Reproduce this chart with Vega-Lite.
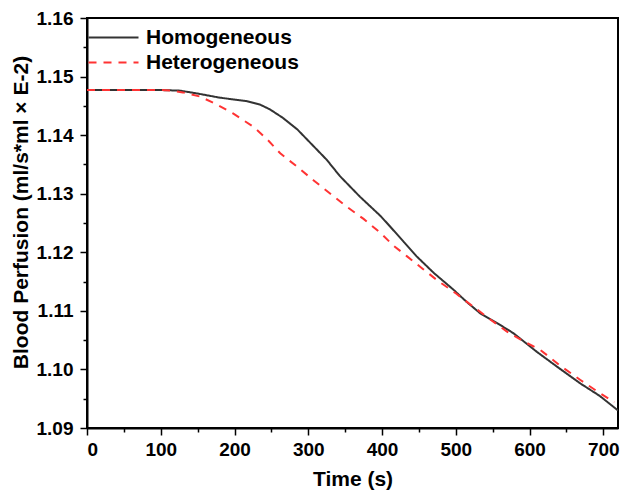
{
  "$schema": "https://vega.github.io/schema/vega-lite/v6.json",
  "width": 531,
  "height": 410,
  "autosize": {"type": "none"},
  "padding": {"left": 87, "top": 18, "right": 4, "bottom": 64},
  "background": "white",
  "config": {
    "view": {"stroke": "black", "strokeWidth": 2},
    "font": "Liberation Sans",
    "axis": {
      "grid": false,
      "domainColor": "black",
      "domainWidth": 2,
      "tickColor": "black",
      "tickWidth": 1.5,
      "labelFont": "Liberation Sans",
      "labelFontWeight": "bold",
      "labelFontSize": 19,
      "labelColor": "black",
      "titleFont": "Liberation Sans",
      "titleFontWeight": "bold",
      "titleFontSize": 21,
      "titleColor": "black"
    }
  },
  "datasets": {
    "curves": [
      {"t": 0, "v": 1.1477, "s": "Homogeneous"},
      {"t": 100, "v": 1.1477, "s": "Homogeneous"},
      {"t": 126, "v": 1.1476, "s": "Homogeneous"},
      {"t": 150, "v": 1.1471, "s": "Homogeneous"},
      {"t": 180, "v": 1.1464, "s": "Homogeneous"},
      {"t": 217, "v": 1.1458, "s": "Homogeneous"},
      {"t": 235, "v": 1.1452, "s": "Homogeneous"},
      {"t": 248, "v": 1.1444, "s": "Homogeneous"},
      {"t": 265, "v": 1.143, "s": "Homogeneous"},
      {"t": 285, "v": 1.141, "s": "Homogeneous"},
      {"t": 305, "v": 1.1384, "s": "Homogeneous"},
      {"t": 325, "v": 1.1358, "s": "Homogeneous"},
      {"t": 343, "v": 1.133, "s": "Homogeneous"},
      {"t": 370, "v": 1.1295, "s": "Homogeneous"},
      {"t": 398, "v": 1.1262, "s": "Homogeneous"},
      {"t": 411, "v": 1.1244, "s": "Homogeneous"},
      {"t": 430, "v": 1.1217, "s": "Homogeneous"},
      {"t": 447, "v": 1.1193, "s": "Homogeneous"},
      {"t": 470, "v": 1.1165, "s": "Homogeneous"},
      {"t": 497, "v": 1.1136, "s": "Homogeneous"},
      {"t": 515, "v": 1.1115, "s": "Homogeneous"},
      {"t": 533, "v": 1.1096, "s": "Homogeneous"},
      {"t": 555, "v": 1.108, "s": "Homogeneous"},
      {"t": 578, "v": 1.1062, "s": "Homogeneous"},
      {"t": 610, "v": 1.103, "s": "Homogeneous"},
      {"t": 637, "v": 1.1005, "s": "Homogeneous"},
      {"t": 669, "v": 1.0976, "s": "Homogeneous"},
      {"t": 695, "v": 1.0955, "s": "Homogeneous"},
      {"t": 720, "v": 1.093, "s": "Homogeneous"},
      {"t": 0, "v": 1.1477, "s": "Heterogeneous"},
      {"t": 100, "v": 1.1477, "s": "Heterogeneous"},
      {"t": 113, "v": 1.1476, "s": "Heterogeneous"},
      {"t": 130, "v": 1.1473, "s": "Heterogeneous"},
      {"t": 153, "v": 1.1466, "s": "Heterogeneous"},
      {"t": 175, "v": 1.1453, "s": "Heterogeneous"},
      {"t": 198, "v": 1.1437, "s": "Heterogeneous"},
      {"t": 226, "v": 1.1414, "s": "Heterogeneous"},
      {"t": 245, "v": 1.1392, "s": "Heterogeneous"},
      {"t": 262, "v": 1.1369, "s": "Heterogeneous"},
      {"t": 285, "v": 1.1346, "s": "Heterogeneous"},
      {"t": 307, "v": 1.1323, "s": "Heterogeneous"},
      {"t": 330, "v": 1.13, "s": "Heterogeneous"},
      {"t": 352, "v": 1.1278, "s": "Heterogeneous"},
      {"t": 375, "v": 1.1257, "s": "Heterogeneous"},
      {"t": 398, "v": 1.1233, "s": "Heterogeneous"},
      {"t": 415, "v": 1.1212, "s": "Heterogeneous"},
      {"t": 434, "v": 1.1193, "s": "Heterogeneous"},
      {"t": 455, "v": 1.1172, "s": "Heterogeneous"},
      {"t": 474, "v": 1.1153, "s": "Heterogeneous"},
      {"t": 500, "v": 1.113, "s": "Heterogeneous"},
      {"t": 524, "v": 1.1107, "s": "Heterogeneous"},
      {"t": 545, "v": 1.1087, "s": "Heterogeneous"},
      {"t": 569, "v": 1.1065, "s": "Heterogeneous"},
      {"t": 592, "v": 1.1048, "s": "Heterogeneous"},
      {"t": 615, "v": 1.1033, "s": "Heterogeneous"},
      {"t": 640, "v": 1.1008, "s": "Heterogeneous"},
      {"t": 669, "v": 1.0982, "s": "Heterogeneous"},
      {"t": 690, "v": 1.0964, "s": "Heterogeneous"},
      {"t": 715, "v": 1.0944, "s": "Heterogeneous"}
    ]
  },
  "data": {"name": "curves"},
  "layer": [
    {
      "mark": {"type": "line", "strokeWidth": 2, "clip": true},
      "encoding": {
        "x": {
          "field": "t", "type": "quantitative",
          "scale": {"domain": [0, 720], "nice": false, "zero": false},
          "axis": {"title": "Time (s)", "values": [0, 100, 200, 300, 400, 500, 600, 700], "tickSize": 7, "labelPadding": 5, "titlePadding": 9, "orient": "bottom"}
        },
        "y": {
          "field": "v", "type": "quantitative",
          "scale": {"domain": [1.09, 1.16], "nice": false, "zero": false},
          "axis": {"title": "Blood Perfusion (ml/s*ml × E-2)", "values": [1.09, 1.1, 1.11, 1.12, 1.13, 1.14, 1.15, 1.16], "format": ".2f", "tickSize": 7, "labelPadding": 7, "titlePadding": 5, "titleY": 194, "orient": "left"}
        },
        "color": {
          "field": "s", "type": "nominal",
          "scale": {"domain": ["Homogeneous", "Heterogeneous"], "range": ["#333333", "#ff3333"]},
          "legend": {
            "title": null,
            "orient": "none",
            "legendX": 16,
            "legendY": 9,
            "padding": 0,
            "symbolType": "M-5,0H5",
            "symbolSize": 100,
            "symbolStrokeWidth": 2,
            "labelOffset": 22,
            "labelFont": "Liberation Sans",
            "labelFontSize": 21,
            "labelFontWeight": "bold",
            "labelColor": "black",
            "rowPadding": 3
          }
        },
        "strokeDash": {
          "field": "s", "type": "nominal",
          "scale": {"domain": ["Homogeneous", "Heterogeneous"], "range": [[1, 0], [8, 7]]},
          "legend": null
        }
      }
    },
    {
      "mark": {"type": "line", "opacity": 0},
      "encoding": {
        "x": {
          "field": "t", "type": "quantitative",
          "axis": {"title": null, "labels": false, "domain": false, "values": [50, 150, 250, 350, 450, 550, 650], "tickSize": 4, "orient": "bottom"}
        },
        "y": {
          "field": "v", "type": "quantitative",
          "axis": {"title": null, "labels": false, "domain": false, "values": [1.095, 1.105, 1.115, 1.125, 1.135, 1.145, 1.155], "tickSize": 4, "orient": "left"}
        },
        "detail": {"field": "s"}
      }
    }
  ],
  "resolve": {"axis": {"x": "independent", "y": "independent"}}
}
